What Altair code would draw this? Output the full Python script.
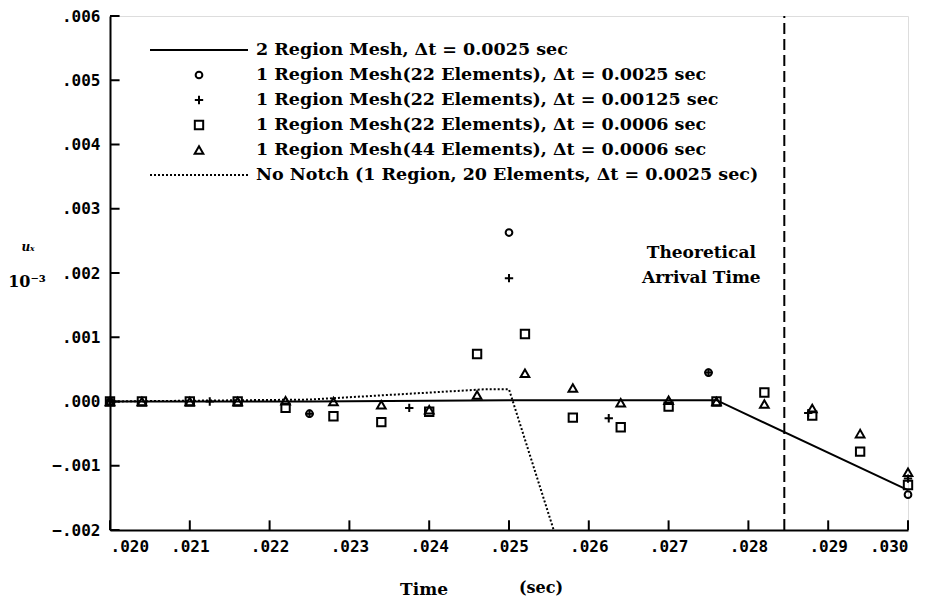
import altair as alt
import pandas as pd

# ---------------- data ----------------
sq_t = [0.0200, 0.0204, 0.0210, 0.0216, 0.0222, 0.0228, 0.0234, 0.0240, 0.0246,
        0.0252, 0.0258, 0.0264, 0.0270, 0.0276, 0.0282, 0.0288, 0.0294, 0.0300]
sq_u = [0.0, 0.0, 0.0, 0.0, -0.00010, -0.00023, -0.00032, -0.00016, 0.00074,
        0.00105, -0.00025, -0.00040, -0.00008, 0.00000, 0.00014, -0.00022, -0.00078, -0.00130]
tri_t = [0.0200, 0.0204, 0.0210, 0.0216, 0.0222, 0.0228, 0.0234, 0.0240, 0.0246,
         0.0252, 0.0258, 0.0264, 0.0270, 0.0276, 0.0282, 0.0288, 0.0294, 0.0300]
tri_u = [0.0, 0.0, 0.0, 0.0, 0.00001, 0.0, -0.00005, -0.00013, 0.00010,
         0.00044, 0.00021, -0.00002, 0.00002, 0.0, -0.00004, -0.00011, -0.00050, -0.00110]
plus_t = [0.0200, 0.02125, 0.0225, 0.02375, 0.0250, 0.02625, 0.0275, 0.02875, 0.0300]
plus_u = [0.0, 0.0, -0.00019, -0.00010, 0.00192, -0.00026, 0.00045, -0.00018, -0.00120]
circ_t = [0.0200, 0.0225, 0.0250, 0.0275, 0.0300]
circ_u = [0.0, -0.00019, 0.00263, 0.00045, -0.00145]
two_t = [0.0200, 0.0225, 0.0250, 0.0276, 0.0300]
two_u = [0.0, 0.0, 0.00002, 0.00002, -0.00138]
nonotch_t = [0.0200, 0.0225, 0.0247, 0.0250, 0.02556]
nonotch_u = [0.0, 0.00003, 0.00019, 0.00019, -0.00200]
arrival_t = [0.02845]

x_ticks = [0.020, 0.021, 0.022, 0.023, 0.024, 0.025, 0.026, 0.027, 0.028, 0.029, 0.030]
y_ticks = [-0.002, -0.001, 0.000, 0.001, 0.002, 0.003, 0.004, 0.005, 0.006]

legend_labels = [
    "2 Region Mesh, \u0394t = 0.0025 sec",
    "1 Region Mesh(22 Elements), \u0394t = 0.0025 sec",
    "1 Region Mesh(22 Elements), \u0394t = 0.00125 sec",
    "1 Region Mesh(22 Elements), \u0394t = 0.0006 sec",
    "1 Region Mesh(44 Elements), \u0394t = 0.0006 sec",
    "No Notch (1 Region, 20 Elements, \u0394t = 0.0025 sec)",
]
legend_keys = ["solid", "circle", "plus", "square", "triangle", "dotted"]
annot_lines = ["Theoretical", "Arrival Time"]

# ---------------- styling ----------------
SERIF = "DejaVu Serif"
MONO = "DejaVu Sans Mono"
PLUS = "M-1,0H1M0,-1V1"
W, H = 798, 514

xscale = alt.Scale(domain=[0.020, 0.030], nice=False, zero=False)
yscale = alt.Scale(domain=[-0.002, 0.006], nice=False, zero=False)
LBL = "replace(format(datum.value, '.3f'), '0.', '.')"
xaxis = alt.Axis(values=x_ticks, labelExpr=LBL,
                 title=None, grid=False, ticks=False, labelFont=MONO, labelFontWeight="bold",
                 labelFontSize=16, labelColor="black", labelPadding=8,
                 domainColor="black", domainWidth=2)
yaxis = alt.Axis(values=y_ticks, labelExpr=LBL,
                 title=None, grid=False, ticks=False, labelFont=MONO, labelFontWeight="bold",
                 labelFontSize=16, labelColor="black", labelPadding=10,
                 domainColor="black", domainWidth=2)


def X(f):
    return alt.X(f, type="quantitative", scale=xscale, axis=xaxis)


def Y(f):
    return alt.Y(f, type="quantitative", scale=yscale, axis=yaxis)


def df(t, u):
    return pd.DataFrame({"t": t, "u": u})


solid = alt.Chart(df(two_t, two_u)).mark_line(color="black", strokeWidth=2).encode(
    x=X("t"), y=Y("u"), order="t:Q")
dotted = alt.Chart(df(nonotch_t, nonotch_u)).mark_line(
    color="black", strokeWidth=2, strokeDash=[2, 2]).encode(x=X("t"), y=Y("u"), order="t:Q")
arrival = alt.Chart(pd.DataFrame({"t": arrival_t})).mark_rule(
    color="black", strokeWidth=2, strokeDash=[11, 5]).encode(
    x=X("t"), y=alt.datum(-0.002), y2=alt.datum(0.006))

xt = alt.Chart(pd.DataFrame({"t": x_ticks})).mark_rule(color="black", strokeWidth=2).encode(
    x=X("t"), y=alt.datum(-0.002), y2=alt.datum(-0.00185))
yt = alt.Chart(pd.DataFrame({"u": y_ticks})).mark_rule(color="black", strokeWidth=2).encode(
    y=Y("u"), x=alt.datum(0.020), x2=alt.datum(0.02012))


def pts(t, u, shape, size):
    return alt.Chart(df(t, u)).mark_point(
        shape=shape, size=size, filled=False, color="black", strokeWidth=2, opacity=1
    ).encode(x=X("t"), y=Y("u"))


circles = pts(circ_t, circ_u, "circle", 45)
pluses = pts(plus_t, plus_u, PLUS, 70)
squares = pts(sq_t, sq_u, "square", 70)
triangles = pts(tri_t, tri_u, "triangle-up", 75)

annot1 = alt.Chart(pd.DataFrame({"a": [annot_lines[0]]})).mark_text(
    font=SERIF, fontWeight="bold", fontSize=17, color="black", align="center", baseline="middle"
).encode(x=alt.datum(0.02741), y=alt.datum(0.00231), text="a:N")
annot2 = alt.Chart(pd.DataFrame({"a": [annot_lines[1]]})).mark_text(
    font=SERIF, fontWeight="bold", fontSize=17, color="black", align="center", baseline="middle"
).encode(x=alt.datum(0.02741), y=alt.datum(0.00192), text="a:N")

one = pd.DataFrame({"a": [0]})
ux = alt.Chart(one).mark_text(text="u\u2093", font=SERIF, fontStyle="italic", fontWeight="bold",
                              fontSize=12, color="black").encode(x=alt.value(-82), y=alt.value(231))
e3 = alt.Chart(one).mark_text(text="10\u207b\u00b3", font=SERIF, fontWeight="bold",
                              fontSize=16, color="black").encode(x=alt.value(-83), y=alt.value(266))
tlab = alt.Chart(one).mark_text(text="Time", font=SERIF, fontWeight="bold",
                                fontSize=17, color="black").encode(x=alt.value(314), y=alt.value(574))
slab = alt.Chart(one).mark_text(text="(sec)", font=SERIF, fontWeight="bold",
                                fontSize=16, color="black").encode(x=alt.value(431), y=alt.value(572))

main = alt.layer(dotted, solid, arrival, xt, yt, circles, pluses, squares, triangles,
                 annot1, annot2, ux, e3, tlab, slab)

# ---------------- legend (inside plot, top-left) ----------------
leg_df = pd.DataFrame({"label": legend_labels, "key": legend_keys})
ly = alt.Y("label:N", sort=legend_labels, axis=None,
           scale=alt.Scale(type="point", domain=legend_labels, range=[34, 159], padding=0))
leg_base = alt.Chart(leg_df)
leg_text = leg_base.mark_text(align="left", baseline="middle", font=SERIF, fontWeight="bold",
                              fontSize=17.5, color="black").encode(x=alt.value(146), y=ly, text="label:N")
leg_solid = leg_base.transform_filter(alt.datum.key == "solid").mark_rule(
    color="black", strokeWidth=2).encode(x=alt.value(40), x2=alt.value(138), y=ly)
leg_dot = leg_base.transform_filter(alt.datum.key == "dotted").mark_rule(
    color="black", strokeWidth=2, strokeDash=[2, 2]).encode(x=alt.value(40), x2=alt.value(138), y=ly)


def leg_pt(key, shape, size):
    return leg_base.transform_filter(alt.datum.key == key).mark_point(
        shape=shape, size=size, filled=False, color="black", strokeWidth=2, opacity=1
    ).encode(x=alt.value(89), y=ly)


legend = alt.layer(leg_text, leg_solid, leg_dot,
                   leg_pt("circle", "circle", 45), leg_pt("plus", PLUS, 70),
                   leg_pt("square", "square", 70), leg_pt("triangle", "triangle-up", 75))

chart = alt.layer(main, legend).resolve_scale(y="independent").properties(
    width=W, height=H,
    autosize=alt.AutoSizeParams(type="none"),
    padding={"left": 102, "top": 8, "right": 20, "bottom": 70},
).configure_view(stroke="black", strokeWidth=2).configure(background="white")

chart.save("out.html", embed_options={"renderer": "svg", "actions": False})
